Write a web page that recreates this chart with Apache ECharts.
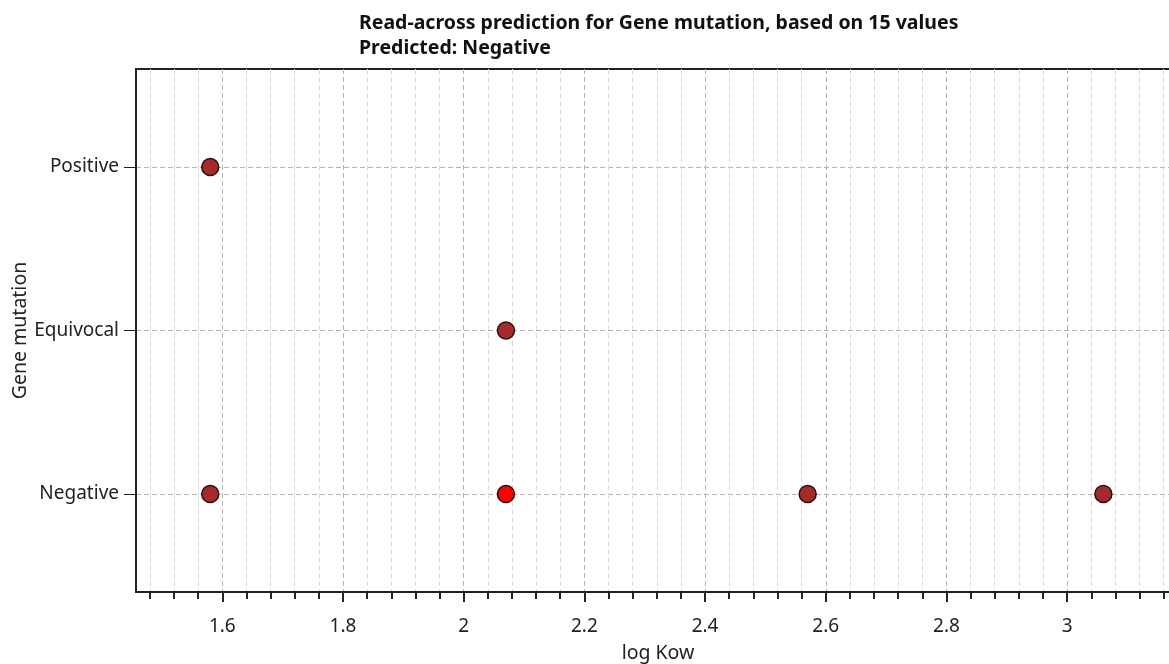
<!DOCTYPE html>
<html>
<head>
<meta charset="utf-8">
<script src="https://cdn.jsdelivr.net/npm/echarts@6/dist/echarts.min.js"></script>
<style>
html,body{margin:0;padding:0;background:#fff;overflow:hidden;width:1169px;height:664px;}
#chart{width:1190px;height:664px;}
</style>
</head>
<body>
<div id="chart"></div>
<script>
// ---- data ----
const categories = ['Negative', 'Equivocal', 'Positive'];
const analogueLogKow = [1.58, 1.58, 2.07, 2.57, 3.06];
const analogueResult = ['Positive', 'Negative', 'Equivocal', 'Negative', 'Negative'];
const targetLogKow = [2.07];
const targetResult = ['Negative'];
const majorTicks = [1.6, 1.8, 2.0, 2.2, 2.4, 2.6, 2.8, 3.0];
const minorTicks = [1.48, 1.52, 1.56, 1.64, 1.68, 1.72, 1.76, 1.84, 1.88, 1.92, 1.96,
  2.04, 2.08, 2.12, 2.16, 2.24, 2.28, 2.32, 2.36, 2.44, 2.48, 2.52, 2.56,
  2.64, 2.68, 2.72, 2.76, 2.84, 2.88, 2.92, 2.96, 3.04, 3.08, 3.12, 3.16];
const categoryTicks = [0, 1, 2];
const titleText = 'Read-across prediction for Gene mutation, based on 15 values\nPredicted: Negative';

const toPairs = (xs, ys) => xs.map((x, i) => [x, categories.indexOf(ys[i])]);

const FONT = 'Noto Sans';
const xMin = 1.457, xMax = 3.187;

const chart = echarts.init(document.getElementById('chart'), null, {renderer: 'canvas'});
chart.setOption({
  animation: false,
  backgroundColor: '#fff',
  title: {
    text: titleText,
    left: 354, top: 6,
    textStyle: {fontFamily: FONT, fontSize: 19.5, fontWeight: 'bold', color: '#111', lineHeight: 25}
  },
  grid: {left: 136, top: 69, right: 10, bottom: 72, show: true, borderColor: '#222', borderWidth: 2,
    containLabel: false, outerBoundsMode: 'none'},
  xAxis: [{
    type: 'value', min: xMin, max: xMax, position: 'bottom',
    name: 'log Kow', nameLocation: 'middle', nameGap: 51, nameMoveOverlap: false,
    nameTextStyle: {fontFamily: FONT, fontSize: 19.5, color: '#222'},
    axisLine: {onZero: false, lineStyle: {color: '#222', width: 2}},
    axisTick: {show: true, length: 10, customValues: majorTicks, lineStyle: {color: '#222', width: 2}},
    axisLabel: {customValues: majorTicks, margin: 25, fontFamily: FONT, fontSize: 19, color: '#222',
      formatter: v => String(Math.round(v * 10) / 10)},
    splitLine: {show: true, lineStyle: {color: '#b4b4b4', type: [5, 3], width: 1}}
  }, {
    type: 'value', min: xMin, max: xMax, position: 'bottom', gridIndex: 0,
    axisLine: {show: false, onZero: false},
    axisTick: {show: true, length: 7, customValues: minorTicks, lineStyle: {color: '#222', width: 2}},
    axisLabel: {show: false, customValues: minorTicks},
    splitLine: {show: true, lineStyle: {color: '#dcdcdc', type: [5, 3], width: 1}}
  }],
  yAxis: {
    type: 'value', min: -0.6, max: 2.6,
    name: 'Gene mutation', nameLocation: 'middle', nameGap: 106, nameRotate: 90, nameMoveOverlap: false,
    nameTextStyle: {fontFamily: FONT, fontSize: 19.5, color: '#222'},
    axisLine: {onZero: false, lineStyle: {color: '#222', width: 2}},
    axisTick: {show: true, length: 12, customValues: categoryTicks, lineStyle: {color: '#222', width: 1}},
    axisLabel: {customValues: categoryTicks, margin: 17, fontFamily: FONT, fontSize: 19, color: '#222',
      formatter: v => categories[Math.round(v)]},
    splitLine: {show: true, lineStyle: {color: '#b4b4b4', type: [5, 3], width: 1}}
  },
  series: [{
    type: 'scatter', xAxisIndex: 0, yAxisIndex: 0,
    data: toPairs(analogueLogKow, analogueResult),
    symbolSize: 17,
    itemStyle: {color: '#a52a2a', borderColor: '#2a1010', borderWidth: 1.5, opacity: 1}
  }, {
    type: 'scatter', xAxisIndex: 0, yAxisIndex: 0,
    data: toPairs(targetLogKow, targetResult),
    symbolSize: 17, z: 3,
    itemStyle: {color: '#ff0000', borderColor: '#2a0a0a', borderWidth: 1.5, opacity: 1}
  }]
});
</script>
</body>
</html>
